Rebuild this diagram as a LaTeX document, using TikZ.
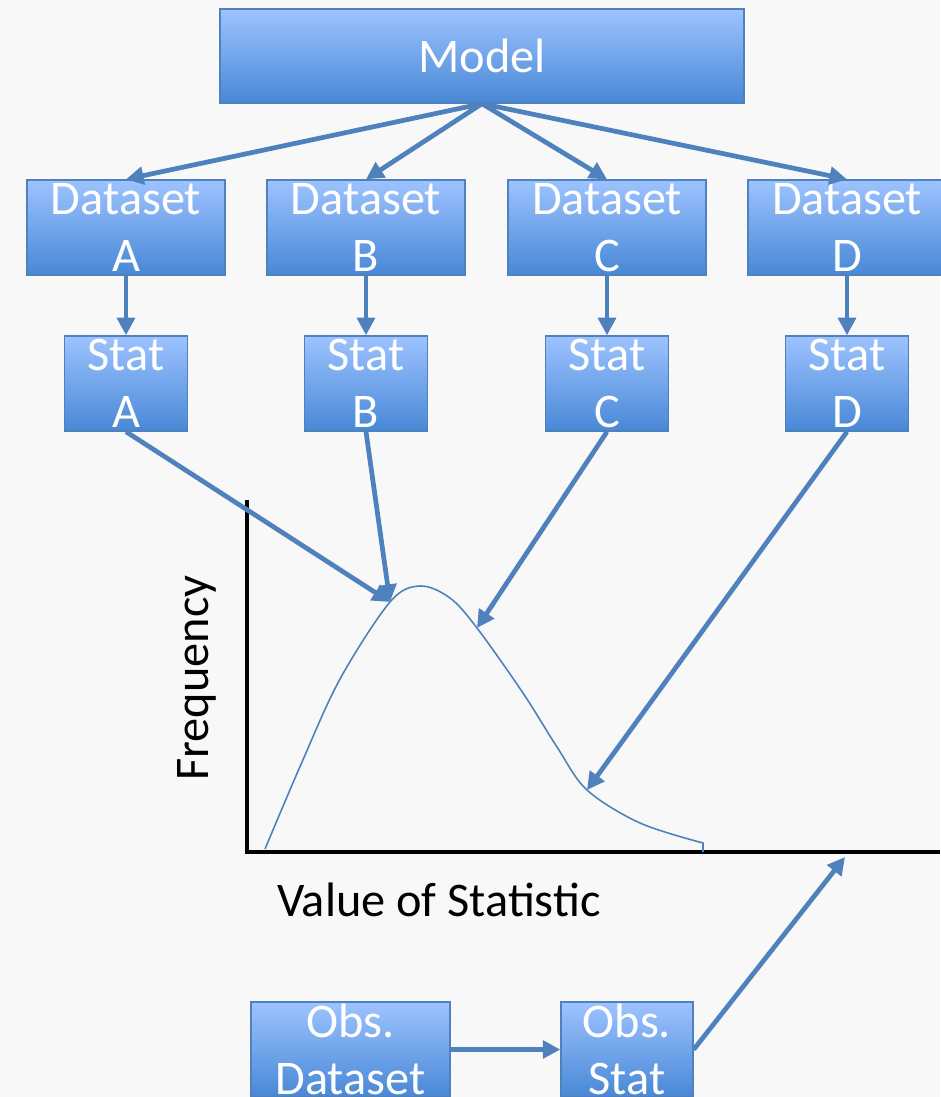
\documentclass[tikz,border=0pt]{standalone}
\usepackage{fontspec}
\setmainfont{Carlito}
\usetikzlibrary{arrows.meta}
\definecolor{boxtop}{RGB}{157,195,255}
\definecolor{boxbot}{RGB}{72,136,214}
\definecolor{boxline}{RGB}{79,129,189}
\definecolor{paper}{RGB}{248,248,248}
\tikzset{arrow/.style={-{Triangle[length=10pt,width=10pt]}, line width=2.7pt, draw=boxline}}
\tikzset{box/.style={draw=boxline, line width=0.8pt, top color=boxtop, bottom color=boxbot,
    text=white, align=center, inner sep=0pt, font=\fontsize{27.5}{32.5}\selectfont}}

\begin{document}
\begin{tikzpicture}[x=0.02cm, y=-0.02cm]
      \fill[paper] (0,0) rectangle (940,1097);
      \useasboundingbox (0,0) rectangle (940,1097);

      \node[box, minimum width=10.48cm, minimum height=1.88cm] (M) at (482, 56) {Model};

      \node[box, minimum width=3.96cm, minimum height=1.9cm] (DA) at (126, 227.5) {Dataset\\A};
      \node[box, minimum width=3.96cm, minimum height=1.9cm] (DB) at (366, 227.5) {Dataset\\B};
      \node[box, minimum width=3.96cm, minimum height=1.9cm] (DC) at (607, 227.5) {Dataset\\C};
      \node[box, minimum width=3.96cm, minimum height=1.9cm] (DD) at (847, 227.5) {Dataset\\D};

      \node[box, minimum width=2.46cm, minimum height=1.9cm] (SA) at (126, 383.5) {Stat\\A};
      \node[box, minimum width=2.46cm, minimum height=1.9cm] (SB) at (366, 383.5) {Stat\\B};
      \node[box, minimum width=2.46cm, minimum height=1.9cm] (SC) at (607, 383.5) {Stat\\C};
      \node[box, minimum width=2.46cm, minimum height=1.9cm] (SD) at (847, 383.5) {Stat\\D};

      \node[box, minimum width=3.98cm, minimum height=1.9cm] (OD) at (350.5, 1049.5) {Obs.\\Dataset};
      \node[box, minimum width=2.64cm, minimum height=1.9cm] (OS) at (627, 1049.5) {Obs.\\Stat};

      \draw[arrow] (M.south) -- (DA.north);
      \draw[arrow] (M.south) -- (DB.north);
      \draw[arrow] (M.south) -- (DC.north);
      \draw[arrow] (M.south) -- (DD.north);

      \draw[arrow] (DA) -- (SA);
      \draw[arrow] (DB) -- (SB);
      \draw[arrow] (DC) -- (SC);
      \draw[arrow] (DD) -- (SD);

      % axes and curve
      \draw[line width=2.4pt] (247, 500) -- (247, 852) -- (940, 852);
      \draw[boxline, line width=0.9pt] plot[smooth, tension=0.55] coordinates {(265, 849) (302, 762) (340, 679)
            (390, 602) (420, 586) (450, 598) (477, 628) (523, 693) (557, 747) (587, 790) (640, 823) (703, 843)}
            -- (703, 852);

      \coordinate (pA) at (390, 602);
      \coordinate (pC) at (477, 628);
      \coordinate (pD) at (587, 790);
      \coordinate (pO) at (845, 857);

      \draw[arrow] (SA.south) -- (pA);
      \draw[arrow] (SB.south) -- (pA);
      \draw[arrow] (SC.south) -- (pC);
      \draw[arrow] (SD.south) -- (pD);

      \draw[arrow] (OD) -- (OS);
      \draw[arrow] (OS.east) -- (pO);

      \node[rotate=90, font=\fontsize{27.5}{32}\selectfont] (freq) at (197, 678) {Frequency};
      \node[font=\fontsize{27.5}{32}\selectfont] (val) at (439, 900) {Value of Statistic};
    \end{tikzpicture}
\end{document}
